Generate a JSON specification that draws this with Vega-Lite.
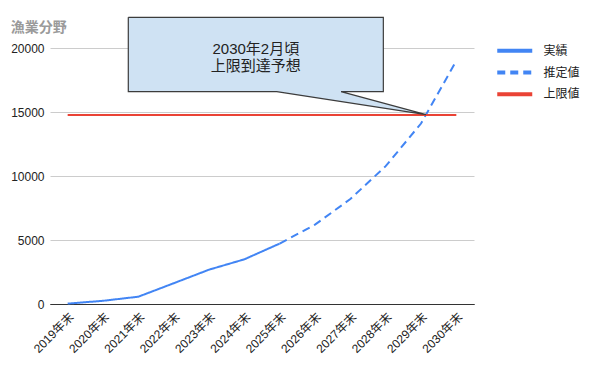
{
  "$schema": "https://vega.github.io/schema/vega-lite/v6.json",
  "autosize": {"type": "none"},
  "padding": {"left": 50, "top": 48, "right": 115, "bottom": 62},
  "width": 424,
  "height": 256,
  "background": "white",
  "config": {
    "font": "Liberation Sans, Noto Sans CJK JP, sans-serif",
    "view": {"stroke": null}
  },
  "title": {
    "text": "漁業分野",
    "anchor": "start",
    "frame": "bounds",
    "fontSize": 14,
    "fontWeight": "bold",
    "color": "#9a9a9a",
    "offset": 0,
    "dy": 20
  },
  "datasets": {
    "series": [
      {"year": 2019, "value": 30, "series": "実績"},
      {"year": 2020, "value": 250, "series": "実績"},
      {"year": 2021, "value": 570, "series": "実績"},
      {"year": 2022, "value": 1620, "series": "実績"},
      {"year": 2023, "value": 2680, "series": "実績"},
      {"year": 2024, "value": 3490, "series": "実績"},
      {"year": 2025, "value": 4720, "series": "実績"},
      {"year": 2025, "value": 4720, "series": "推定値"},
      {"year": 2026, "value": 6200, "series": "推定値"},
      {"year": 2027, "value": 8200, "series": "推定値"},
      {"year": 2028, "value": 10770, "series": "推定値"},
      {"year": 2029, "value": 14100, "series": "推定値"},
      {"year": 2030, "value": 19000, "series": "推定値"},
      {"year": 2019, "value": 14770, "series": "上限値"},
      {"year": 2030, "value": 14770, "series": "上限値"}
    ],
    "callout": [
      {"order": 1, "cx": 2020.716, "cy": 22398},
      {"order": 2, "cx": 2027.934, "cy": 22398},
      {"order": 3, "cx": 2027.934, "cy": 16586},
      {"order": 4, "cx": 2026.737, "cy": 16586},
      {"order": 5, "cx": 2029.142, "cy": 14800},
      {"order": 6, "cx": 2024.917, "cy": 16586},
      {"order": 7, "cx": 2020.716, "cy": 16586},
      {"order": 8, "cx": 2020.716, "cy": 22398}
    ],
    "note": [
      {"cx": 2024.325, "cy": 19920, "label": "2030年2月頃\n上限到達予想"}
    ]
  },
  "layer": [
    {
      "data": {"name": "series"},
      "mark": {"type": "line", "strokeWidth": 2},
      "encoding": {
        "x": {
          "field": "year",
          "type": "quantitative",
          "scale": {"domain": [2018.5, 2030.5], "nice": false, "zero": false},
          "axis": {
            "values": [2019, 2020, 2021, 2022, 2023, 2024, 2025, 2026, 2027, 2028, 2029, 2030],
            "tickCount": 30,
            "labelExpr": "datum.value + '年末'",
            "title": null,
            "grid": false,
            "ticks": false,
            "domainColor": "#333333",
            "labelAngle": -45,
            "labelAlign": "right",
            "labelBaseline": "top",
            "labelPadding": 7,
            "labelFontSize": 12,
            "labelColor": "#222222",
            "labelOverlap": false,
            "labelFlush": false,
            "labelBound": false
          }
        },
        "y": {
          "field": "value",
          "type": "quantitative",
          "scale": {"domain": [0, 20000], "nice": false},
          "axis": {
            "values": [0, 5000, 10000, 15000, 20000],
            "format": "d",
            "title": null,
            "ticks": false,
            "domain": false,
            "gridColor": {"condition": {"test": "datum.value === 0", "value": "#333333"}, "value": "#cccccc"},
            "labelPadding": 6,
            "labelFontSize": 12,
            "labelColor": "#222222"
          }
        },
        "color": {
          "field": "series",
          "type": "nominal",
          "scale": {"domain": ["実績", "推定値", "上限値"], "range": ["#4285f4", "#4285f4", "#ea4335"]},
          "legend": {
            "title": null,
            "orient": "none",
            "legendX": 453.75,
            "legendY": -8.2,
            "symbolType": "M-2,0L2,0",
            "symbolSize": 306.25,
            "symbolStrokeWidth": 4,
            "labelFontSize": 12,
            "labelColor": "#222222",
            "labelOffset": 17.75,
            "rowPadding": 2.7,
            "padding": 0,
            "encode": {
              "symbols": {
                "update": {
                  "strokeDash": {"value": {"expr": "datum.value === '推定値' ? [14, 8] : [1, 0]"}}
                }
              }
            }
          }
        },
        "strokeDash": {
          "field": "series",
          "type": "nominal",
          "scale": {"domain": ["実績", "推定値", "上限値"], "range": [[1, 0], [8, 5], [1, 0]]},
          "legend": null
        }
      }
    },
    {
      "data": {"name": "callout"},
      "mark": {"type": "line", "fill": "#cfe2f3", "stroke": "#3c3c3c", "strokeWidth": 1.2, "strokeJoin": "miter"},
      "encoding": {
        "x": {"field": "cx", "type": "quantitative"},
        "y": {"field": "cy", "type": "quantitative"},
        "order": {"field": "order", "type": "quantitative"}
      }
    },
    {
      "data": {"name": "note"},
      "mark": {"type": "text", "fontSize": 15, "lineHeight": 17, "lineBreak": "\n", "align": "center", "baseline": "middle", "color": "#222222"},
      "encoding": {
        "x": {"field": "cx", "type": "quantitative"},
        "y": {"field": "cy", "type": "quantitative"},
        "text": {"field": "label"}
      }
    }
  ]
}
